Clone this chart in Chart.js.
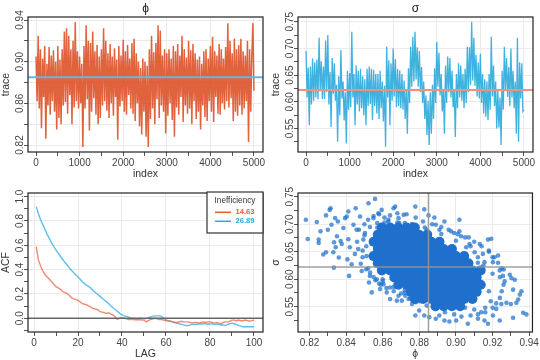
<!DOCTYPE html>
<html>
<head>
<meta charset="utf-8">
<script src="https://cdn.jsdelivr.net/npm/chart.js@4.4.1/dist/chart.umd.min.js"></script>
<style>
  html, body { margin: 0; padding: 0; background: #fff; }
  #wrap { position: relative; width: 540px; height: 360px; }
  #wrap canvas { position: absolute; }
</style>
</head>
<body>
<div id="wrap">
  <canvas id="cPhi" width="270" height="180" style="left:0;top:0"></canvas>
  <canvas id="cSigma" width="270" height="180" style="left:270px;top:0"></canvas>
  <canvas id="cAcf" width="270" height="180" style="left:0;top:180px"></canvas>
  <canvas id="cScatter" width="270" height="180" style="left:270px;top:180px"></canvas>
</div>
<script>
// trace of phi, one value every 25 draws (0..5000)
const phiTrace = [
  0.905, 0.862, 0.925, 0.855, 0.912, 0.836, 0.903, 0.866, 0.915, 0.826,
  0.898, 0.858, 0.914, 0.849, 0.906, 0.862, 0.911, 0.852, 0.900, 0.835,
  0.915, 0.846, 0.902, 0.840, 0.912, 0.858, 0.929, 0.861, 0.932, 0.850,
  0.925, 0.868, 0.912, 0.840, 0.920, 0.856, 0.938, 0.862, 0.910, 0.855,
  0.905, 0.860, 0.898, 0.818, 0.915, 0.855, 0.935, 0.864, 0.920, 0.834,
  0.918, 0.852, 0.929, 0.865, 0.910, 0.849, 0.916, 0.840, 0.905, 0.846,
  0.912, 0.858, 0.932, 0.862, 0.920, 0.853, 0.908, 0.846, 0.917, 0.860,
  0.905, 0.848, 0.913, 0.866, 0.902, 0.825, 0.915, 0.857, 0.906, 0.862,
  0.921, 0.852, 0.910, 0.849, 0.916, 0.868, 0.903, 0.855, 0.918, 0.850,
  0.922, 0.843, 0.908, 0.860, 0.900, 0.838, 0.894, 0.830, 0.903, 0.852,
  0.900, 0.828, 0.896, 0.818, 0.912, 0.845, 0.925, 0.855, 0.909, 0.840,
  0.918, 0.864, 0.935, 0.846, 0.930, 0.858, 0.906, 0.852, 0.912, 0.831,
  0.908, 0.848, 0.912, 0.860, 0.903, 0.844, 0.915, 0.828, 0.910, 0.856,
  0.917, 0.849, 0.906, 0.866, 0.925, 0.842, 0.912, 0.858, 0.904, 0.850,
  0.920, 0.855, 0.911, 0.840, 0.917, 0.862, 0.908, 0.845, 0.902, 0.852,
  0.905, 0.835, 0.898, 0.858, 0.910, 0.847, 0.912, 0.843, 0.903, 0.862,
  0.915, 0.852, 0.924, 0.842, 0.910, 0.866, 0.906, 0.850, 0.917, 0.849,
  0.912, 0.860, 0.903, 0.854, 0.914, 0.862, 0.937, 0.856, 0.920, 0.865,
  0.908, 0.843, 0.922, 0.852, 0.912, 0.848, 0.916, 0.858, 0.922, 0.849,
  0.910, 0.855, 0.906, 0.862, 0.920, 0.823, 0.912, 0.852, 0.905, 0.937,
  0.872
];

// trace of sigma, same draws
const sigmaTrace = [
  0.695, 0.608, 0.664, 0.556, 0.666, 0.595, 0.681, 0.602, 0.674, 0.608,
  0.679, 0.605, 0.720, 0.620, 0.676, 0.605, 0.666, 0.605, 0.715, 0.618,
  0.725, 0.595, 0.656, 0.553, 0.682, 0.615, 0.672, 0.602, 0.632, 0.525,
  0.648, 0.575, 0.697, 0.606, 0.638, 0.565, 0.618, 0.522, 0.658, 0.585,
  0.654, 0.590, 0.731, 0.608, 0.652, 0.556, 0.668, 0.595, 0.658, 0.582,
  0.662, 0.588, 0.648, 0.575, 0.642, 0.556, 0.662, 0.592, 0.666, 0.596,
  0.662, 0.566, 0.660, 0.592, 0.652, 0.578, 0.652, 0.568, 0.658, 0.588,
  0.638, 0.563, 0.630, 0.516, 0.703, 0.608, 0.678, 0.556, 0.672, 0.602,
  0.700, 0.610, 0.680, 0.590, 0.662, 0.592, 0.659, 0.588, 0.652, 0.585,
  0.640, 0.568, 0.622, 0.540, 0.663, 0.598, 0.703, 0.628, 0.722, 0.638,
  0.731, 0.642, 0.702, 0.628, 0.695, 0.618, 0.665, 0.598, 0.638, 0.568,
  0.612, 0.538, 0.602, 0.519, 0.618, 0.540, 0.632, 0.568, 0.663, 0.598,
  0.712, 0.628, 0.692, 0.612, 0.652, 0.582, 0.622, 0.540, 0.668, 0.598,
  0.685, 0.618, 0.682, 0.608, 0.658, 0.590, 0.622, 0.534, 0.652, 0.588,
  0.672, 0.608, 0.668, 0.602, 0.652, 0.588, 0.662, 0.598, 0.703, 0.618,
  0.702, 0.632, 0.750, 0.640, 0.720, 0.630, 0.688, 0.610, 0.674, 0.606,
  0.690, 0.598, 0.652, 0.578, 0.642, 0.572, 0.638, 0.566, 0.652, 0.585,
  0.722, 0.610, 0.668, 0.592, 0.638, 0.550, 0.622, 0.552, 0.608, 0.519,
  0.658, 0.585, 0.703, 0.622, 0.682, 0.609, 0.665, 0.592, 0.700, 0.608,
  0.658, 0.588, 0.638, 0.540, 0.720, 0.525, 0.674, 0.606, 0.672, 0.582,
  0.585
];
const traceIndex = phiTrace.map((_, i) => i * 25);
const phiMean = 0.885;
const sigmaMean = 0.622;

// autocorrelation, lags 1..100
const acfPhi = [
  0.59, 0.48, 0.43, 0.39, 0.36, 0.34, 0.32, 0.30, 0.28, 0.26,
  0.25, 0.24, 0.22, 0.21, 0.205, 0.19, 0.17, 0.16, 0.155, 0.145,
  0.135, 0.12, 0.115, 0.11, 0.10, 0.09, 0.08, 0.075, 0.07, 0.055,
  0.05, 0.045, 0.04, 0.045, 0.033, 0.025, 0.01, -0.01, 0.0, 0.005,
  0.0, -0.005, -0.01, -0.01, -0.01, -0.012, -0.012, -0.01, -0.015, -0.015,
  -0.03, -0.02, -0.01, -0.005, 0.0, -0.005, -0.01, -0.01, -0.015, -0.02,
  -0.02, -0.025, -0.03, -0.035, -0.035, -0.03, -0.025, -0.03, -0.03, -0.03,
  -0.035, -0.04, -0.035, -0.035, -0.04, -0.035, -0.03, -0.035, -0.03, -0.03,
  -0.035, -0.04, -0.035, -0.04, -0.045, -0.035, -0.03, -0.03, -0.025, -0.015,
  -0.015, -0.02, -0.015, -0.02, -0.02, -0.015, -0.02, -0.025, -0.02, -0.015
];
const acfSigma = [
  0.918, 0.86, 0.81, 0.77, 0.73, 0.69, 0.655, 0.62, 0.59, 0.56,
  0.535, 0.51, 0.485, 0.46, 0.44, 0.415, 0.395, 0.375, 0.355, 0.34,
  0.32, 0.30, 0.285, 0.27, 0.26, 0.245, 0.225, 0.21, 0.195, 0.18,
  0.165, 0.15, 0.135, 0.12, 0.10, 0.085, 0.07, 0.055, 0.04, 0.027,
  0.02, 0.015, 0.01, 0.003, 0.0, -0.002, -0.003, 0.0, -0.002, -0.005,
  -0.003, 0.005, 0.01, 0.018, 0.02, 0.02, 0.02, 0.015, 0.0, -0.014,
  -0.02, -0.025, -0.03, -0.035, -0.04, -0.045, -0.05, -0.055, -0.06, -0.06,
  -0.055, -0.05, -0.05, -0.05, -0.047, -0.047, -0.045, -0.045, -0.047, -0.047,
  -0.047, -0.05, -0.05, -0.05, -0.055, -0.055, -0.06, -0.05, -0.045, -0.04,
  -0.045, -0.05, -0.06, -0.065, -0.07, -0.07, -0.07, -0.07, -0.07, -0.07
];
const acfLags = acfPhi.map((_, i) => i + 1);
const inefficiency = ['14.63', '26.89'];

// joint draws: the dense middle of the cloud, row by row (sigma -> phi values)
const denseSigma = [0.694, 0.681, 0.668, 0.655, 0.642, 0.629, 0.616, 0.603, 0.590, 0.577, 0.564, 0.551];
const densePhi = [
  [0.8595, 0.864, 0.8685, 0.873, 0.8775],
  [0.8573, 0.8618, 0.8663, 0.8708, 0.8753, 0.8798, 0.8843],
  [0.855, 0.8595, 0.864, 0.8685, 0.873, 0.8775, 0.882, 0.8865, 0.891],
  [0.8573, 0.8618, 0.8663, 0.8708, 0.8753, 0.8798, 0.8843, 0.8888, 0.8933, 0.8978],
  [0.855, 0.8595, 0.864, 0.8685, 0.873, 0.8775, 0.882, 0.8865, 0.891, 0.8955, 0.900, 0.9045],
  [0.8573, 0.8618, 0.8663, 0.8708, 0.8753, 0.8798, 0.8843, 0.8888, 0.8933, 0.8978, 0.9023, 0.9068],
  [0.8595, 0.864, 0.8685, 0.873, 0.8775, 0.882, 0.8865, 0.891, 0.8955, 0.900, 0.9045, 0.909, 0.9135],
  [0.8663, 0.8708, 0.8753, 0.8798, 0.8843, 0.8888, 0.8933, 0.8978, 0.9023, 0.9068, 0.9113],
  [0.8685, 0.873, 0.8775, 0.882, 0.8865, 0.891, 0.8955, 0.900, 0.9045, 0.909, 0.9135],
  [0.8753, 0.8798, 0.8843, 0.8888, 0.8933, 0.8978, 0.9023, 0.9068, 0.9113],
  [0.8775, 0.882, 0.8865, 0.891, 0.8955, 0.900, 0.9045, 0.909],
  [0.8888, 0.8933, 0.8978, 0.9023]
];
// joint draws: scattered points around and outside the dense middle
const sparsePhi = [
  0.818, 0.819, 0.824, 0.825, 0.825, 0.826, 0.8275, 0.829, 0.829, 0.831, 0.8315, 0.830, 0.832, 0.833, 0.8333,
  0.834, 0.8343, 0.835, 0.8355, 0.8334, 0.836, 0.837, 0.8376, 0.8385, 0.8394, 0.8403, 0.8407, 0.8412, 0.8416, 0.8412,
  0.842, 0.843, 0.844, 0.8452, 0.8457, 0.8448, 0.8466, 0.8476, 0.8485, 0.8494, 0.8503, 0.8512, 0.8522, 0.8525, 0.8531,
  0.854, 0.8549, 0.8558, 0.8567, 0.8576, 0.8585, 0.8594, 0.8604, 0.8622, 0.8631, 0.864, 0.8659, 0.8668, 0.8677, 0.8686,
  0.8704, 0.8723, 0.8741, 0.876, 0.8778, 0.8686, 0.872, 0.8714, 0.8778,
  0.8827, 0.885, 0.8882, 0.889, 0.8937, 0.8973, 0.9019, 0.9019, 0.9028, 0.9056, 0.9074, 0.9102, 0.912, 0.9147, 0.9156,
  0.9175, 0.9193, 0.9202, 0.923, 0.9239, 0.9261, 0.9257, 0.9266, 0.9294, 0.9303, 0.9312, 0.9321, 0.933, 0.934, 0.9349,
  0.9358, 0.9367, 0.9385, 0.9312, 0.9276, 0.9248, 0.9239, 0.922, 0.9202, 0.9175, 0.9156, 0.9138, 0.912, 0.9065, 0.9001,
  0.8964, 0.8937, 0.8909, 0.889, 0.8854, 0.8827, 0.8799, 0.8781, 0.930,
  0.846, 0.847, 0.848, 0.849, 0.850, 0.851, 0.852, 0.853, 0.855, 0.856, 0.858, 0.859, 0.861, 0.862, 0.864,
  0.866, 0.868, 0.870, 0.873, 0.875, 0.878, 0.880, 0.882, 0.884, 0.887, 0.889, 0.892, 0.894, 0.896, 0.899,
  0.901, 0.903, 0.905, 0.908, 0.910, 0.912, 0.914, 0.916, 0.918, 0.920, 0.921, 0.922, 0.923, 0.924, 0.925,
  0.925, 0.926, 0.924, 0.857, 0.860, 0.905, 0.915,
  0.849, 0.851, 0.850, 0.852, 0.853, 0.855, 0.857, 0.860, 0.863, 0.866, 0.869, 0.872, 0.876, 0.879, 0.883,
  0.887, 0.891, 0.895, 0.899, 0.903, 0.907, 0.910, 0.913, 0.916, 0.918, 0.919, 0.920, 0.920, 0.918, 0.915,
  0.912, 0.908, 0.904, 0.900, 0.896, 0.892, 0.888, 0.884, 0.880, 0.876, 0.872, 0.868, 0.864, 0.861, 0.858
];
const sparseSigma = [
  0.708, 0.673, 0.704, 0.672, 0.666, 0.687, 0.645, 0.716, 0.649, 0.726, 0.729, 0.690, 0.699, 0.649, 0.621,
  0.711, 0.658, 0.678, 0.705, 0.667, 0.6395, 0.6695, 0.664, 0.693, 0.711, 0.714, 0.636, 0.723, 0.606, 0.6725,
  0.658, 0.627, 0.699, 0.729, 0.690, 0.646, 0.655, 0.714, 0.615, 0.672, 0.684, 0.642, 0.738, 0.594, 0.612,
  0.576, 0.711, 0.746, 0.600, 0.720, 0.582, 0.726, 0.591, 0.576, 0.708, 0.564, 0.729, 0.732, 0.561, 0.570,
  0.561, 0.570, 0.564, 0.555, 0.534, 0.711, 0.702, 0.717, 0.732,
  0.727, 0.716, 0.712, 0.699, 0.705, 0.687, 0.708, 0.687, 0.678, 0.658, 0.664, 0.649, 0.640, 0.646, 0.631,
  0.672, 0.6735, 0.631, 0.643, 0.616, 0.6175, 0.606, 0.596, 0.608, 0.602, 0.581, 0.599, 0.557, 0.563, 0.572,
  0.578, 0.539, 0.536, 0.530, 0.557, 0.555, 0.525, 0.546, 0.534, 0.519, 0.525, 0.540, 0.528, 0.519, 0.525,
  0.523, 0.525, 0.534, 0.528, 0.531, 0.534, 0.543, 0.558, 0.555,
  0.668, 0.690, 0.628, 0.652, 0.700, 0.618, 0.708, 0.606, 0.715, 0.598, 0.718, 0.590, 0.712, 0.584, 0.716,
  0.578, 0.720, 0.574, 0.718, 0.566, 0.712, 0.560, 0.705, 0.552, 0.700, 0.546, 0.695, 0.540, 0.690, 0.536,
  0.682, 0.532, 0.676, 0.534, 0.668, 0.536, 0.660, 0.540, 0.650, 0.548, 0.640, 0.556, 0.630, 0.566, 0.620,
  0.578, 0.590, 0.604, 0.694, 0.600, 0.548, 0.625,
  0.640, 0.660, 0.680, 0.620, 0.695, 0.604, 0.702, 0.596, 0.705, 0.586, 0.702, 0.580, 0.700, 0.572, 0.694,
  0.565, 0.690, 0.556, 0.684, 0.550, 0.676, 0.545, 0.664, 0.548, 0.652, 0.560, 0.640, 0.610, 0.578, 0.590,
  0.630, 0.660, 0.612, 0.670, 0.642, 0.682, 0.560, 0.690, 0.570, 0.700, 0.575, 0.703, 0.585, 0.703, 0.592
];

// ticks (all tick marks) and the ones that carry a label
const traceXTicks = [0, 500, 1000, 1500, 2000, 2500, 3000, 3500, 4000, 4500, 5000];
const traceXLabels = [0, 1000, 2000, 3000, 4000, 5000];
const phiYTicks = [0.82, 0.84, 0.86, 0.88, 0.90, 0.92, 0.94];
const phiYLabels = [0.82, 0.86, 0.90, 0.94];
const sigmaYTicks = [0.525, 0.55, 0.575, 0.60, 0.625, 0.65, 0.675, 0.70, 0.725, 0.75];
const sigmaYLabels = [0.55, 0.60, 0.65, 0.70, 0.75];
const acfXTicks = [0, 10, 20, 30, 40, 50, 60, 70, 80, 90, 100];
const acfXLabels = [0, 20, 40, 60, 80, 100];
const acfYTicks = [-0.1, 0, 0.1, 0.2, 0.3, 0.4, 0.5, 0.6, 0.7, 0.8, 0.9, 1.0];
const acfYLabels = [0, 0.2, 0.4, 0.6, 0.8, 1.0];
const phiXTicks = [0.82, 0.83, 0.84, 0.85, 0.86, 0.87, 0.88, 0.89, 0.90, 0.91, 0.92, 0.93, 0.94];
const phiXLabels = [0.82, 0.84, 0.86, 0.88, 0.90, 0.92, 0.94];

const FONT = '"Liberation Sans", Arial, Helvetica, sans-serif';

const has = (list, v) => list.some(l => Math.abs(l - v) < 1e-9);

function axis(o) {
  return {
    type: 'linear', min: o.min, max: o.max,
    afterBuildTicks: s => { s.ticks = o.ticks.map(v => ({ value: v })); },
    grid: {
      color: c => (o.minorGrid || has(o.labels, c.tick.value)) ? '#ebebeb' : 'rgba(0,0,0,0)',
      tickColor: '#555', tickLength: 4, lineWidth: 1
    },
    border: { display: false },
    ticks: {
      autoSkip: false, color: '#444', font: { family: FONT, size: 10 },
      callback: v => has(o.labels, v) ? o.fmt(v) : ''
    },
    title: { display: true, text: o.title, color: '#333', font: { family: FONT, size: 10.5 }, padding: 0 }
  };
}

function panelOptions(o) {
  const x = axis(o.x);
  x.afterFit = s => { s.height = 28; };
  x.ticks.maxRotation = 0;
  x.ticks.padding = 1;
  const y = axis(o.y);
  y.afterFit = s => { s.width = 28; };
  Object.assign(y.ticks, { minRotation: 90, maxRotation: 90, crossAlign: 'center', padding: o.y.pad });
  return {
    responsive: false, animation: false, devicePixelRatio: 1,
    layout: { padding: { left: 0, right: 7, top: o.top, bottom: 0 } },
    plugins: { legend: { display: false }, tooltip: { enabled: false } },
    scales: { x, y }
  };
}

// frame, panel title, reference lines and the small ACF legend
function extras(cfg) {
  return {
    id: 'extras',
    afterDatasetsDraw(chart) {
      const { ctx, chartArea: a, scales } = chart;
      ctx.save();
      ctx.beginPath(); ctx.rect(a.left, a.top, a.width, a.height); ctx.clip();
      (cfg.hLines || []).forEach(l => {
        const py = scales.y.getPixelForValue(l.value);
        ctx.strokeStyle = l.color; ctx.lineWidth = l.width;
        ctx.beginPath(); ctx.moveTo(a.left, py); ctx.lineTo(a.right, py); ctx.stroke();
      });
      (cfg.vLines || []).forEach(l => {
        const px = scales.x.getPixelForValue(l.value);
        ctx.strokeStyle = l.color; ctx.lineWidth = l.width;
        ctx.beginPath(); ctx.moveTo(px, a.top); ctx.lineTo(px, a.bottom); ctx.stroke();
      });
      ctx.restore();
    },
    afterDraw(chart) {
      const { ctx, chartArea: a } = chart;
      ctx.save();
      ctx.strokeStyle = '#222'; ctx.lineWidth = 1.2;
      ctx.strokeRect(a.left, a.top, a.width, a.height);
      if (cfg.title) {
        ctx.fillStyle = '#222'; ctx.font = '12px ' + FONT;
        ctx.textAlign = 'center'; ctx.textBaseline = 'middle';
        ctx.fillText(cfg.title, (a.left + a.right) / 2, 9);
      }
      if (cfg.legend) {
        const r = a.right, t = a.top - 1;
        ctx.fillStyle = '#fff';
        ctx.fillRect(r - 56, t, 56, 41);
        ctx.strokeStyle = '#333'; ctx.lineWidth = 1.2;
        ctx.strokeRect(r - 56, t, 56, 41);
        ctx.fillStyle = '#333'; ctx.font = '8.2px ' + FONT;
        ctx.textAlign = 'center'; ctx.textBaseline = 'middle';
        ctx.fillText(cfg.legend.title, r - 28, t + 8.3);
        cfg.legend.items.forEach((it, i) => {
          const yy = t + 20.3 + i * 9;
          ctx.strokeStyle = it.color; ctx.lineWidth = 1.5;
          ctx.beginPath(); ctx.moveTo(r - 48, yy); ctx.lineTo(r - 32, yy); ctx.stroke();
          ctx.fillStyle = it.color; ctx.font = 'bold 7.6px ' + FONT;
          ctx.textAlign = 'right';
          ctx.fillText(it.text, r - 8.5, yy);
        });
      }
      ctx.restore();
    }
  };
}

const traceX = { min: -184, max: 5207, ticks: traceXTicks, labels: traceXLabels, fmt: v => String(v), title: 'index' };

// ϕ trace
new Chart(document.getElementById('cPhi'), {
  type: 'line',
  data: {
    datasets: [{
      data: phiTrace.map((v, i) => ({ x: traceIndex[i], y: v })),
      borderColor: 'rgba(220,72,28,0.85)', borderWidth: 1.5, pointRadius: 0, tension: 0
    }]
  },
  options: panelOptions({
    top: 17,
    x: traceX,
    y: { min: 0.8133, max: 0.9429, ticks: phiYTicks, labels: phiYLabels, fmt: v => v.toFixed(2), title: 'trace', pad: -6, minorGrid: true }
  }),
  plugins: [extras({ title: 'ϕ', hLines: [{ value: phiMean, color: '#62b8e0', width: 2 }] })]
});

// σ trace
new Chart(document.getElementById('cSigma'), {
  type: 'line',
  data: {
    datasets: [{
      data: sigmaTrace.map((v, i) => ({ x: traceIndex[i], y: v })),
      borderColor: 'rgba(30,165,218,0.85)', borderWidth: 1.3, pointRadius: 0, tension: 0
    }]
  },
  options: panelOptions({
    top: 17,
    x: traceX,
    y: { min: 0.506, max: 0.7588, ticks: sigmaYTicks, labels: sigmaYLabels, fmt: v => v.toFixed(2), title: 'trace', pad: -6 }
  }),
  plugins: [extras({ title: 'σ', hLines: [{ value: sigmaMean, color: '#f0917a', width: 2 }] })]
});

// autocorrelation
new Chart(document.getElementById('cAcf'), {
  type: 'line',
  data: {
    datasets: [
      { data: acfPhi.map((v, i) => ({ x: acfLags[i], y: v })), borderColor: 'rgba(232,100,66,0.75)', borderWidth: 1.4, pointRadius: 0, tension: 0 },
      { data: acfSigma.map((v, i) => ({ x: acfLags[i], y: v })), borderColor: 'rgba(40,170,225,0.75)', borderWidth: 1.4, pointRadius: 0, tension: 0 }
    ]
  },
  options: panelOptions({
    top: 13,
    x: { min: -2.73, max: 104.1, ticks: acfXTicks, labels: acfXLabels, fmt: v => String(v), title: 'LAG' },
    y: { min: -0.113, max: 1.03, ticks: acfYTicks, labels: acfYLabels, fmt: v => v.toFixed(1), title: 'ACF', pad: -3 }
  }),
  plugins: [extras({
    hLines: [{ value: 0, color: '#666', width: 1.3 }],
    legend: { title: 'Inefficiency', items: [{ text: inefficiency[0], color: '#ea5a2e' }, { text: inefficiency[1], color: '#27a9e1' }] }
  })]
});

// joint scatter of ϕ and σ
const densePoints = [];
denseSigma.forEach((s, r) => densePhi[r].forEach(p => densePoints.push({ x: p, y: s })));
new Chart(document.getElementById('cScatter'), {
  type: 'scatter',
  data: {
    datasets: [
      { data: densePoints, pointRadius: 5, backgroundColor: '#1e70cc', borderWidth: 0 },
      { data: sparsePhi.map((p, i) => ({ x: p, y: sparseSigma[i] })), pointRadius: 2.3, backgroundColor: 'rgba(30,112,204,0.72)', borderWidth: 0 }
    ]
  },
  options: panelOptions({
    top: 13,
    x: { min: 0.8137, max: 0.9418, ticks: phiXTicks, labels: phiXLabels, fmt: v => v.toFixed(2), title: 'ϕ' },
    y: { min: 0.504, max: 0.7567, ticks: sigmaYTicks, labels: sigmaYLabels, fmt: v => v.toFixed(2), title: 'σ', pad: -6 }
  }),
  plugins: [extras({
    hLines: [{ value: sigmaMean, color: 'rgba(150,150,150,0.9)', width: 1.5 }],
    vLines: [{ value: phiMean, color: 'rgba(150,150,150,0.9)', width: 1.5 }]
  })]
});
</script>
</body>
</html>
